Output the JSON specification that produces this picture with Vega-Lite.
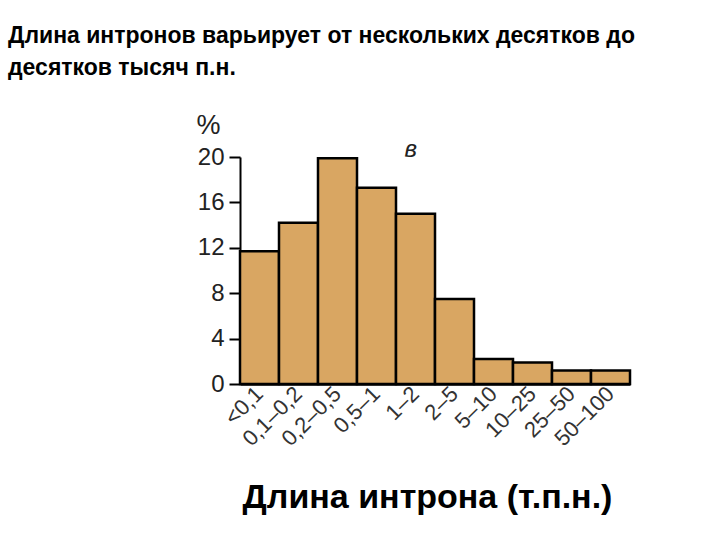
{
  "$schema": "https://vega.github.io/schema/vega-lite/v6.json",
  "autosize": {"type": "none"},
  "width": 390,
  "height": 227,
  "padding": {"left": 240, "top": 157, "right": 90, "bottom": 156},
  "background": "white",
  "config": {
    "view": {"stroke": null},
    "font": "Liberation Sans"
  },
  "title": {
    "text": ["Длина интронов варьирует от нескольких десятков до", "десятков тысяч п.н."],
    "anchor": "start",
    "frame": "group",
    "orient": "top",
    "dx": -232,
    "offset": 31,
    "font": "Liberation Sans",
    "fontSize": 23,
    "fontWeight": "bold",
    "lineHeight": 32,
    "color": "black"
  },
  "datasets": {
    "bars": [
      {"range": "<0,1", "percent": 11.7},
      {"range": "0,1–0,2", "percent": 14.2},
      {"range": "0,2–0,5", "percent": 19.9},
      {"range": "0,5–1", "percent": 17.3},
      {"range": "1–2", "percent": 15.0},
      {"range": "2–5", "percent": 7.5},
      {"range": "5–10", "percent": 2.2},
      {"range": "10–25", "percent": 1.9},
      {"range": "25–50", "percent": 1.2},
      {"range": "50–100", "percent": 1.2}
    ],
    "note": [
      {"range": "1–2", "percent": 20.6, "label": "в"}
    ]
  },
  "layer": [
    {
      "data": {"name": "bars"},
      "mark": {"type": "bar", "fill": "#D9A662", "stroke": "black", "strokeWidth": 2.5},
      "encoding": {
        "x": {
          "field": "range",
          "type": "nominal",
          "sort": null,
          "scale": {"paddingInner": 0, "paddingOuter": 0},
          "axis": {
            "title": "Длина интрона (т.п.н.)",
            "titleFont": "Liberation Sans",
            "titleFontSize": 34,
            "titleFontWeight": "bold",
            "titleColor": "black",
            "titlePadding": 31,
            "titleX": 187,
            "titleAlign": "center",
            "labelAngle": -45,
            "labelAlign": "right",
            "labelBaseline": "middle",
            "labelFontSize": 22,
            "labelColor": "#333",
            "labelPadding": 6,
            "labelDx": 3,
            "ticks": false,
            "domain": true,
            "domainColor": "black",
            "domainWidth": 2.5
          }
        },
        "y": {
          "field": "percent",
          "type": "quantitative",
          "scale": {"domain": [0, 20], "nice": false},
          "axis": {
            "values": [0, 4, 8, 12, 16, 20],
            "title": "%",
            "titleAngle": 0,
            "titleX": -32,
            "titleY": -18,
            "titleAlign": "center",
            "titleBaseline": "bottom",
            "titleFontSize": 27,
            "titleFontWeight": "normal",
            "titleColor": "#222",
            "grid": false,
            "tickSize": 11,
            "tickColor": "black",
            "tickWidth": 2,
            "labelFontSize": 24,
            "labelColor": "#222",
            "labelPadding": 5,
            "domainColor": "black",
            "domainWidth": 2
          }
        }
      }
    },
    {
      "data": {"name": "note"},
      "mark": {"type": "text", "fontSize": 24, "fontStyle": "italic", "baseline": "middle", "align": "center", "color": "#222"},
      "encoding": {
        "x": {"field": "range", "type": "nominal", "sort": null, "bandPosition": 0.38},
        "y": {"field": "percent", "type": "quantitative"},
        "text": {"field": "label"}
      }
    }
  ]
}
